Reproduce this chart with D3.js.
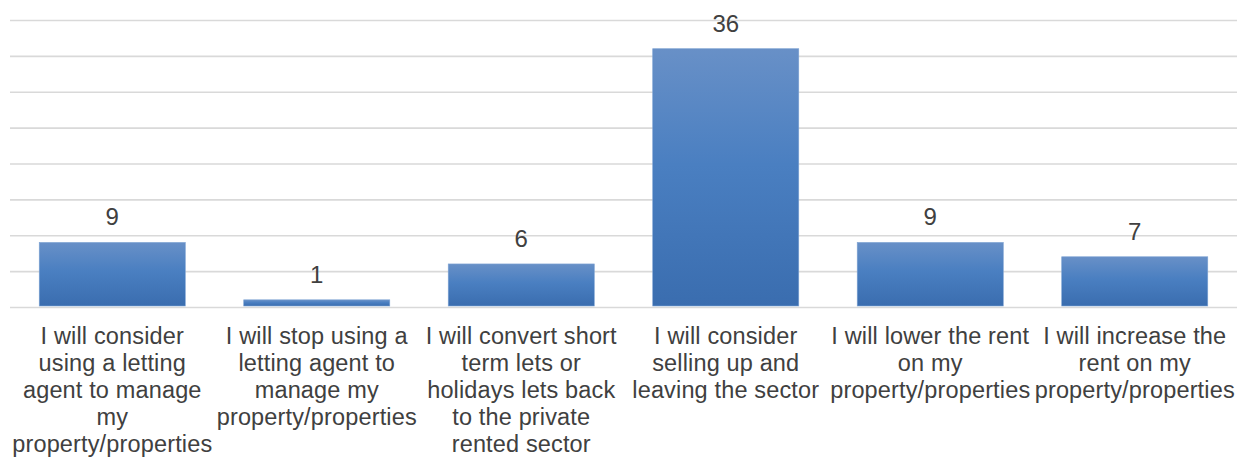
<!DOCTYPE html>
<html>
<head>
<meta charset="utf-8">
<script src="https://cdn.jsdelivr.net/npm/d3@7"></script>
<style>
  html, body { margin: 0; padding: 0; background: #fff; }
  svg { display: block; }
  text { font-family: "Liberation Sans", Arial, sans-serif; fill: #404040; }
</style>
</head>
<body>
<svg id="chart" width="1237" height="457"></svg>
<script>
// Survey responses: what landlords say they will do
const categories = [
  ["I will consider", "using a letting", "agent to manage", "my", "property/properties"],
  ["I will stop using a", "letting agent to", "manage my", "property/properties"],
  ["I will convert short", "term lets or", "holidays lets back", "to the private", "rented sector"],
  ["I will consider", "selling up and", "leaving the sector"],
  ["I will lower the rent", "on my", "property/properties"],
  ["I will increase the", "rent on my", "property/properties"]
];
const values = [9, 1, 6, 36, 9, 7];
const yTicks = [0, 5, 10, 15, 20, 25, 30, 35, 40];

const svg = d3.select("#chart");
const plot = { left: 10, right: 1237, top: 20, bottom: 307 };

const x = d3.scaleBand()
  .domain(d3.range(values.length))
  .range([plot.left, plot.right])
  .paddingInner(0.2857)
  .paddingOuter(0.1429);

const y = d3.scaleLinear().domain([0, 40]).range([plot.bottom, plot.top]);

// bar fill: lighter at the top, deeper blue at the base
const defs = svg.append("defs");
const grad = defs.append("linearGradient")
  .attr("id", "barFill").attr("x1", 0).attr("y1", 0).attr("x2", 0).attr("y2", 1);
grad.append("stop").attr("offset", "0%").attr("stop-color", "#6890c7");
grad.append("stop").attr("offset", "45%").attr("stop-color", "#4a7fc1");
grad.append("stop").attr("offset", "100%").attr("stop-color", "#3a6daf");

// horizontal gridlines
const yAxis = d3.axisLeft(y).tickValues(yTicks).tickSize(-(plot.right - plot.left)).tickFormat("");
const gy = svg.append("g").attr("transform", `translate(${plot.left},0)`).call(yAxis);
gy.select(".domain").remove();
gy.selectAll(".tick line").attr("stroke", "#d9d9d9").attr("stroke-width", 1.6);

// bars
svg.append("g").selectAll("rect")
  .data(values)
  .join("rect")
  .attr("x", (d, i) => x(i))
  .attr("width", x.bandwidth())
  .attr("y", d => y(d))
  .attr("height", d => y(0) - y(d) - 1)
  .attr("fill", "url(#barFill)")
  .attr("stroke", "#7ea3d3")
  .attr("stroke-width", 0.6);

// value labels
svg.append("g").selectAll("text")
  .data(values)
  .join("text")
  .attr("x", (d, i) => x(i) + x.bandwidth() / 2)
  .attr("y", d => y(d) - 17)
  .attr("text-anchor", "middle")
  .style("font-size", "24px")
  .text(d => d);

// category labels, wrapped onto several lines
const xAxis = d3.axisBottom(x).tickSize(0).tickFormat("");
const gx = svg.append("g").attr("transform", `translate(0,${plot.bottom})`).call(xAxis);
gx.select(".domain").remove();
gx.selectAll(".tick").each(function(i) {
  const t = d3.select(this).append("text")
    .attr("text-anchor", "middle")
    .attr("y", 37)
    .style("font-size", "23.5px")
    .style("letter-spacing", "0.15px");
  categories[i].forEach((line, k) => {
    t.append("tspan").attr("x", 0).attr("dy", k === 0 ? 0 : 27).text(line);
  });
});
</script>
</body>
</html>
